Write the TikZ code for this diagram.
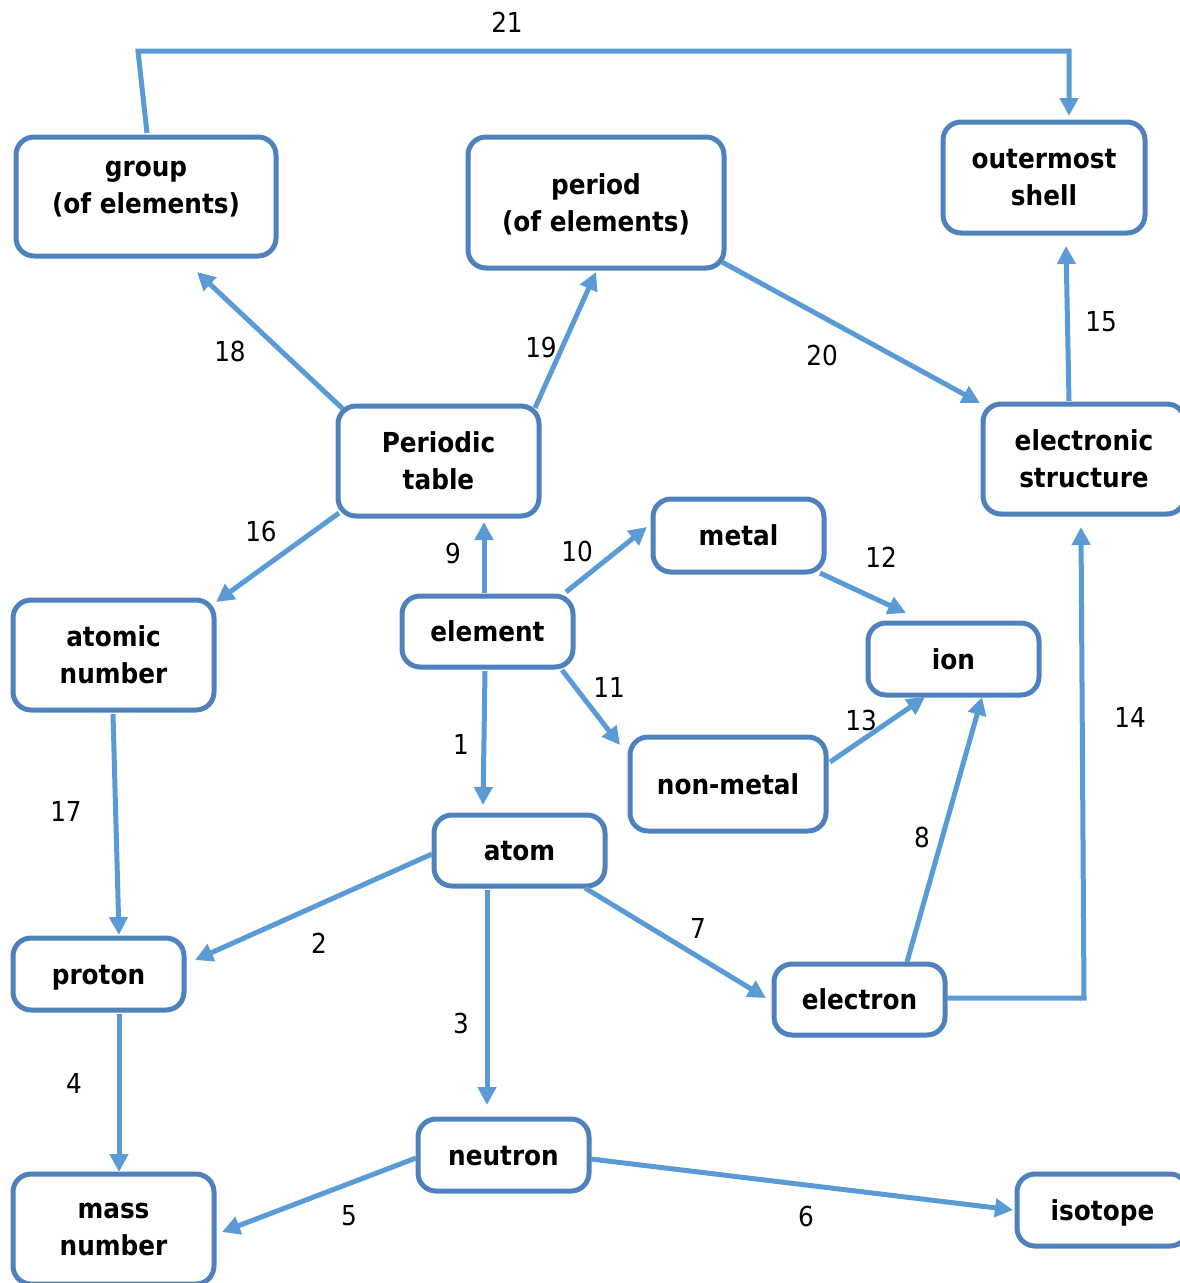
\documentclass[tikz,border=0pt]{standalone}
\usepackage{fontspec}
\setmainfont{DejaVu Sans}[FakeStretch=0.9]
\usetikzlibrary{arrows.meta,calc}
\definecolor{boxc}{HTML}{4F81BD}
\definecolor{arrc}{HTML}{5B9BD5}
\begin{document}
\begin{tikzpicture}[x=1pt,y=-1pt,
  box/.style={draw=boxc, line width=5pt, rounded corners=18pt, fill=white, align=center,
    font=\fontsize{27.5}{37}\selectfont\bfseries, inner sep=0pt, text depth=0pt},
  single/.style={text height=20pt},
  arr/.style={draw=arrc, line width=5pt, -{Triangle[length=18pt,width=18pt]}},
  lab/.style={font=\fontsize{27.5}{32}\selectfont, inner sep=0pt}]
\useasboundingbox (0,0) rectangle (1179,1283);
% nodes
\node[box, minimum width=260pt, minimum height=119pt, text depth=19pt] (group) at (146,196.5) {group\\(of elements)};
\node[box, minimum width=256pt, minimum height=131pt] (period) at (596,202.5) {period\\(of elements)};
\node[box, minimum width=202pt, minimum height=111pt] (outer) at (1044,177.5) {outermost\\shell};
\node[box, minimum width=201pt, minimum height=110pt] (ptable) at (438.5,461) {Periodic\\table};
\node[box, minimum width=202pt, minimum height=110pt] (estruct) at (1084,459) {electronic\\structure};
\node[box, single, minimum width=171pt, minimum height=73pt] (metal) at (738.5,535.5) {metal};
\node[box, single, minimum width=171pt, minimum height=71pt] (element) at (487.5,631.5) {element};
\node[box, single, minimum width=171pt, minimum height=72pt] (ion) at (953.5,659) {ion};
\node[box, minimum width=201pt, minimum height=110pt] (atomic) at (113.5,655) {atomic\\number};
\node[box, single, minimum width=196pt, minimum height=94pt] (nonmetal) at (728,784) {non-metal};
\node[box, single, minimum width=171pt, minimum height=71pt] (atom) at (519.5,850.5) {atom};
\node[box, single, minimum width=171pt, minimum height=72pt] (proton) at (98.5,974) {proton};
\node[box, single, minimum width=171pt, minimum height=71pt] (electron) at (859.5,999.5) {electron};
\node[box, single, minimum width=171pt, minimum height=72pt] (neutron) at (503.5,1155) {neutron};
\node[box, single, minimum width=171pt, minimum height=72pt] (isotope) at (1102.5,1210) {isotope};
\node[box, minimum width=201pt, minimum height=110pt] (mass) at (113.5,1229) {mass\\number};
% connectors
\draw[arr] ($(group)+(1,-63.5)$) -- ++(-9,-82) -| ($(outer)+(25,-61.5)$);
\draw[arr] ($(ptable)+(-95.5,-52)$) -- ($(group)+(51,75.5)$);
\draw[arr] ($(ptable)+(96.5,-53)$) -- ($(period)+(0,69.5)$);
\draw[arr] ($(period)+(126,59.5)$) -- ($(estruct)+(-104,-56)$);
\draw[arr] ($(estruct)+(-15,-58)$) -- ($(outer)+(22,68.5)$);
\draw[arr] ($(ptable)+(-99.5,52)$) -- ($(atomic)+(102.5,-53)$);
\draw[arr] ($(element)+(-3.5,-38.5)$) -- ($(ptable)+(45.5,61)$);
\draw[arr] ($(element)+(78.5,-39.5)$) -- ($(metal)+(-91.5,-8.5)$);
\draw[arr] ($(metal)+(81.5,37.5)$) -- ($(ion)+(-47.5,-46)$);
\draw[arr] ($(element)+(74.5,38.5)$) -- ($(nonmetal)+(-108,-39)$);
\draw[arr] ($(nonmetal)+(102,-22)$) -- ($(ion)+(-28.5,38)$);
\draw[arr] ($(element)+(-2.5,39.5)$) -- ($(atom)+(-36.5,-45.5)$);
\draw[arr] ($(electron)+(87.5,-1.5)$) -- ++(137,0) -- ($(estruct)+(-3,68)$);
\draw[arr] ($(electron)+(47.5,-37.5)$) -- ($(ion)+(28.5,38)$);
\draw[arr] ($(atomic)+(-0.5,59)$) -- ($(proton)+(20.5,-39)$);
\draw[arr] ($(atom)+(-87.5,3.5)$) -- ($(proton)+(96.5,-14)$);
\draw[arr] ($(atom)+(65.5,37.5)$) -- ($(electron)+(-93.5,-1.5)$);
\draw[arr] ($(atom)+(-32.5,39.5)$) -- ($(neutron)+(-16.5,-50)$);
\draw[arr] ($(proton)+(20.5,40)$) -- ($(mass)+(5.5,-57)$);
\draw[arr] ($(neutron)+(-87.5,3)$) -- ($(mass)+(108.5,3)$);
\draw[arr] ($(neutron)+(87.5,4)$) -- ($(isotope)+(-89.5,0)$);
% labels
\node[lab] (l21) at (507,22) {21};
\node[lab] (l18) at (230,351) {18};
\node[lab] (l19) at (541,347) {19};
\node[lab] (l20) at (822,355) {20};
\node[lab] (l15) at (1101,322) {15};
\node[lab] (l16) at (261,531) {16};
\node[lab] (l9) at (453,553) {9};
\node[lab] (l10) at (577,551) {10};
\node[lab] (l12) at (881,557) {12};
\node[lab] (l11) at (609,687) {11};
\node[lab] (l13) at (861,720) {13};
\node[lab] (l1) at (461,744) {1};
\node[lab] (l14) at (1130,717) {14};
\node[lab] (l8) at (922,837) {8};
\node[lab] (l17) at (66,811) {17};
\node[lab] (l2) at (319,943) {2};
\node[lab] (l7) at (698,928) {7};
\node[lab] (l3) at (461,1023) {3};
\node[lab] (l4) at (74,1083) {4};
\node[lab] (l5) at (349,1216) {5};
\node[lab] (l6) at (806,1216) {6};
\end{tikzpicture}
\end{document}
